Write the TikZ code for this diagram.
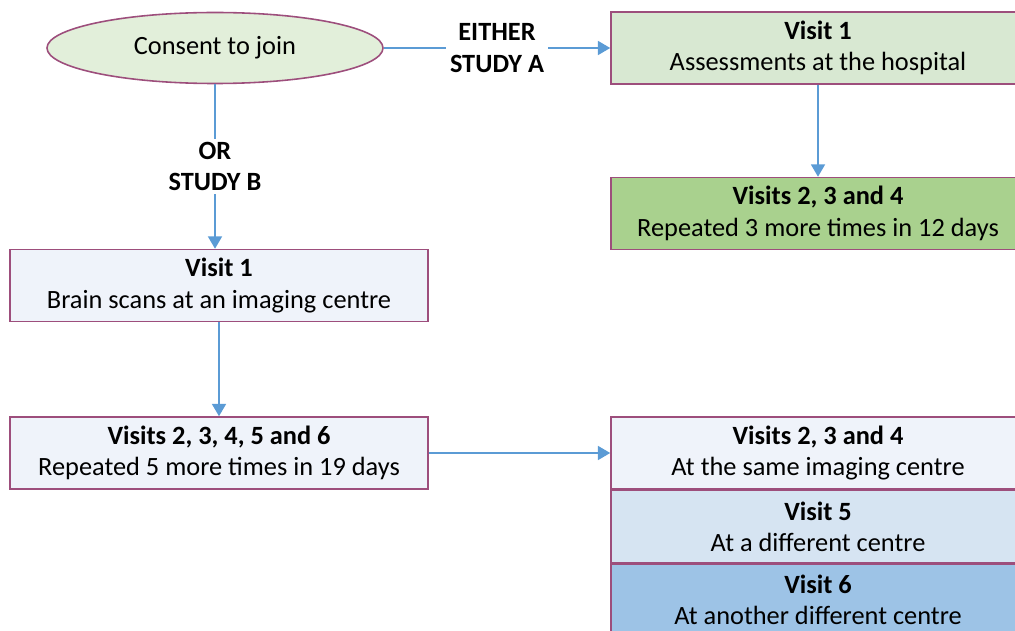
\documentclass[tikz,border=0pt]{standalone}
\usepackage{fontspec}
\setmainfont{Carlito}
\usetikzlibrary{shapes.geometric,arrows.meta}

\definecolor{rimpurple}{RGB}{157,78,124}
\definecolor{arrowblue}{RGB}{91,155,213}
\definecolor{ovalgreen}{RGB}{226,239,218}
\definecolor{palegreen}{RGB}{216,232,210}
\definecolor{midgreen}{RGB}{169,209,142}
\definecolor{paleblue}{RGB}{239,243,250}
\definecolor{softblue}{RGB}{214,228,242}
\definecolor{deepblue}{RGB}{157,195,230}

\tikzset{
  visitbox/.style={draw=rimpurple, line width=0.9pt, rectangle, align=center,
    minimum width=8.3cm, minimum height=1.44cm, inner sep=0pt,
    font=\fontsize{15}{17.8}\selectfont},
  wideboxA/.style={visitbox, minimum width=8.28cm},
  flow/.style={draw=arrowblue, line width=0.8pt, -{Triangle[length=7pt,width=8pt]}},
  pathlabel/.style={fill=white, align=center, inner sep=2pt,
    font=\fontsize{15}{17.8}\selectfont\bfseries}
}

\begin{document}
\begin{tikzpicture}
      \useasboundingbox (0,0) rectangle (20.3,-12.62);

      \node [draw=rimpurple, line width=0.9pt, fill=ovalgreen, ellipse,
             minimum width=6.72cm, minimum height=1.42cm, inner sep=0pt,
             font=\fontsize{15}{17.8}\selectfont] (consent) at (4.30, -0.96) {Consent to join};

      % study A
      \node [wideboxA, fill=palegreen] (a1) at (16.36, -0.96)
            {\textbf{Visit 1}\\Assessments at the hospital};
      \node [wideboxA, fill=midgreen] (a2) at (16.36, -4.27)
            {\textbf{Visits 2, 3 and 4}\\Repeated 3 more times in 12 days};

      % study B
      \node [visitbox, minimum width=8.36cm, fill=paleblue] (b1) at (4.38, -5.71)
            {\textbf{Visit 1}\\Brain scans at an imaging centre};
      \node [visitbox, minimum width=8.36cm, fill=paleblue] (b2) at (4.38, -9.06)
            {\textbf{Visits 2, 3, 4, 5 and 6}\\Repeated 5 more times in 19 days};

      \node [wideboxA, fill=paleblue] (c1) at (16.36, -9.06)
            {\textbf{Visits 2, 3 and 4}\\At the same imaging centre};
      \node [wideboxA, fill=softblue, anchor=north] (c2) at (c1.south)
            {\textbf{Visit 5}\\At a different centre};
      \node [wideboxA, fill=deepblue, anchor=north] (c3) at (c2.south)
            {\textbf{Visit 6}\\At another different centre};

      \draw [flow] (consent.east) -- node[pathlabel] {EITHER\\STUDY A} (a1.west);
      \draw [flow] (a1.south) -- (a2.north);
      \draw [flow] (consent.south) -- node[pathlabel] {OR\\STUDY B} (consent.south |- b1.north);
      \draw [flow] (b1.south) -- (b2.north);
      \draw [flow] (b2.east) -- (c1.west);
    \end{tikzpicture}
\end{document}
